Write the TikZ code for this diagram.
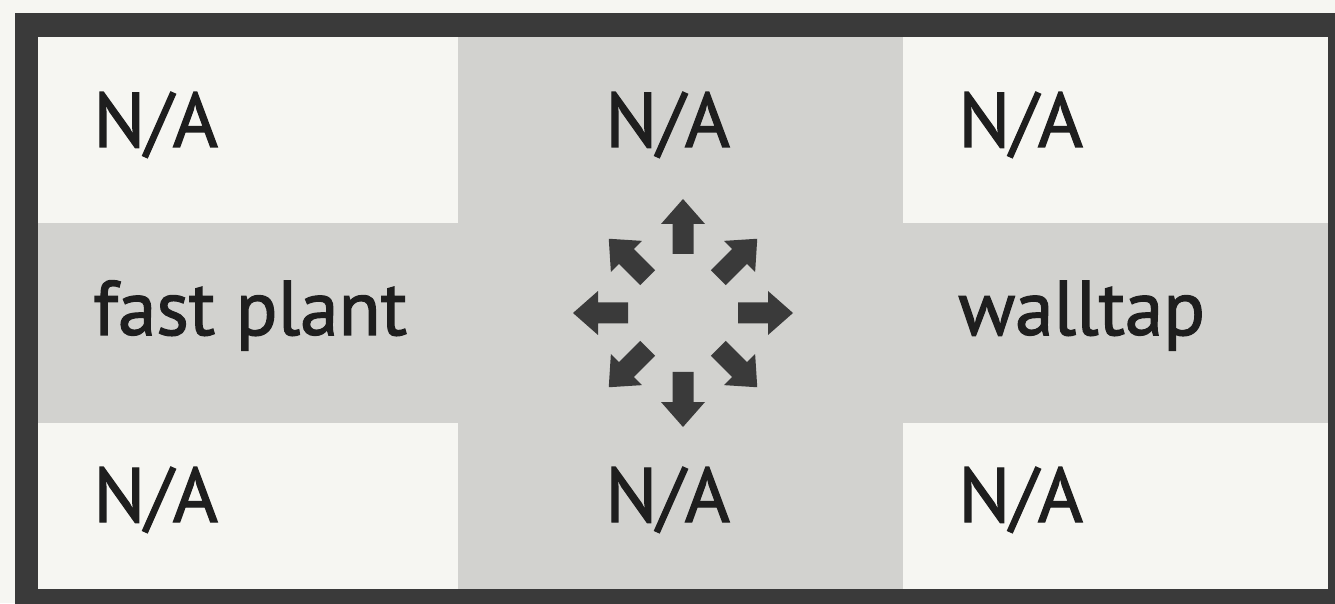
\documentclass[tikz,border=0pt]{standalone}
\usepackage{fontspec}
\setmainfont{PT Sans}
\newfontfamily\labelfont[FakeBold=1.6]{PT Sans}

\definecolor{paper}{RGB}{246,246,242}
\definecolor{frame}{RGB}{58,58,58}
\definecolor{cellgray}{RGB}{210,210,207}
\definecolor{ink}{RGB}{30,30,30}

\tikzset{
  label/.style={anchor=base west, inner sep=0pt, text=ink, font=\labelfont\fontsize{44}{44}\selectfont},
  blockarrow/.style={fill=frame, draw=none}
}

\begin{document}
\begin{tikzpicture}

\useasboundingbox (0,0) rectangle (26.7,12.06);
\fill[paper] (0,0) rectangle (26.7,12.06);

\begin{scope}
\clip (0,0) rectangle (26.7,12.06);
% frame and cells
\fill[frame] (0.3,-0.5) rectangle (27.2,11.8);
\fill[paper] (0.76,0.28) rectangle (26.56,11.32);
\fill[cellgray] (9.16,0.28) rectangle (18.06,11.32);
\fill[cellgray] (0.76,3.6) rectangle (26.56,7.6);
\end{scope}

% labels
\node[label] (tl) at (1.86,9.12) {N/A};
\node[label] (tm) at (12.1,9.12) {N/A};
\node[label] (tr) at (19.16,9.12) {N/A};
\node[label] (ml) at (1.86,5.36) {fast plant};
\node[label] (mr) at (19.16,5.36) {walltap};
\node[label] (bl) at (1.86,1.62) {N/A};
\node[label] (bm) at (12.1,1.62) {N/A};
\node[label] (br) at (19.16,1.62) {N/A};

% eight directions
\coordinate (hub) at (13.66,5.8);
\foreach \ang/\rin in {0/1.1, 45/1.0, 90/1.18, 135/1.0, 180/1.1, 225/1.0, 270/1.18, 315/1.0}{
  \begin{scope}[shift={(hub)}, rotate=\ang]
    \fill[blockarrow] (\rin,-0.21) -- ++(0.6,0) -- ++(0,-0.23) -- ++(0.5,0.44)
      -- ++(-0.5,0.44) -- ++(0,-0.23) -- ++(-0.6,0) -- cycle;
  \end{scope}
}

\end{tikzpicture}
\end{document}
